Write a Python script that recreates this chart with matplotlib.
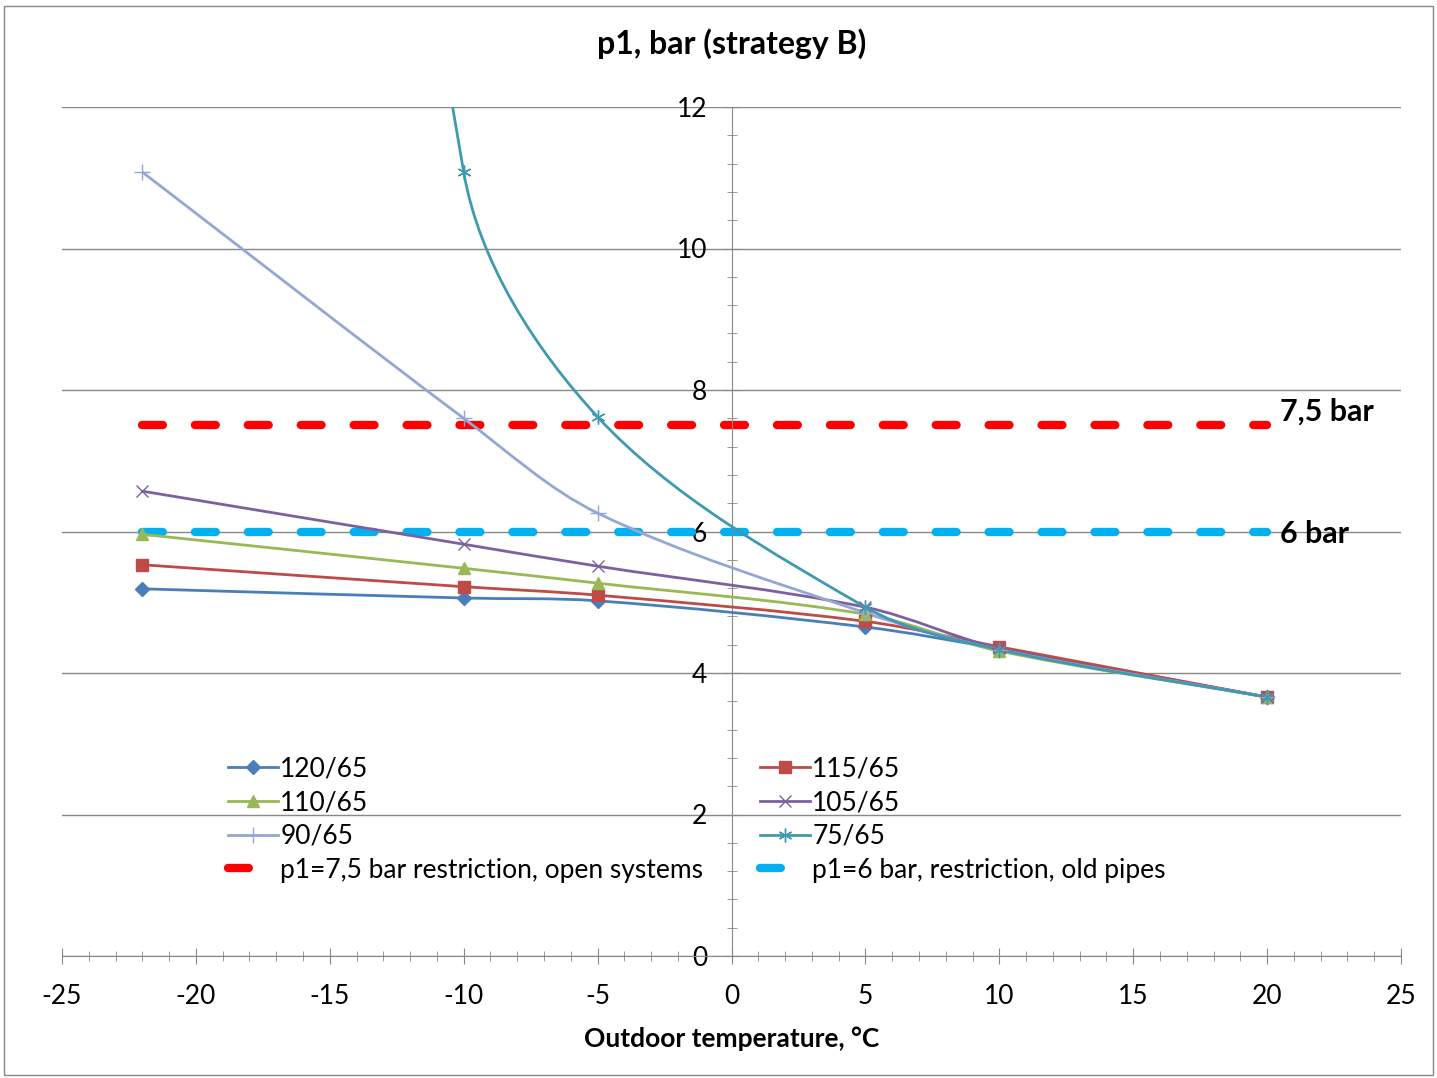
import math
import matplotlib
matplotlib.use("Agg")
import matplotlib.pyplot as plt
from matplotlib.path import Path
from matplotlib.patches import PathPatch, Rectangle
from matplotlib.lines import Line2D
from matplotlib.ticker import MultipleLocator

plt.rcParams['font.family'] = ['Lato', 'DejaVu Sans']
plt.rcParams['axes.unicode_minus'] = False

# ---------------- data ----------------
temps = [-22, -10, -5, 5, 10, 20]
s_120_65 = [5.19, 5.06, 5.02, 4.65, 4.34, 3.66]
s_115_65 = [5.53, 5.22, 5.10, 4.73, 4.37, 3.66]
s_110_65 = [5.96, 5.48, 5.27, 4.83, 4.31, 3.66]
s_105_65 = [6.57, 5.82, 5.51, 4.93, 4.35, 3.66]
s_90_65 = [11.08, 7.60, 6.26, 4.85, 4.33, 3.66]
s_75_65 = [45.0, 11.08, 7.62, 4.93, 4.33, 3.66]
limit_x = [-22, 20]
limit_open = [7.5, 7.5]
limit_old = [6.0, 6.0]
series_labels = ["120/65", "115/65", "110/65", "105/65", "90/65", "75/65"]
limit_labels = ["p1=7,5 bar restriction, open systems", "p1=6 bar, restriction, old pipes"]
limit_notes = ["7,5 bar", "6 bar"]
title = "p1, bar (strategy B)"
xlabel = "Outdoor temperature, \u00b0C"

colors = ["#4A7EBB", "#BE4B48", "#98B954", "#7D60A0", "#94A7D4", "#3E9AB0"]
markers = ["D", "s", "^", "x", "+", (6, 2, 0)]
msizes = [7, 9, 9, 9, 11, 10]

W, H = 1437, 1078
fig = plt.figure(figsize=(W / 100, H / 100), dpi=100)
ax_l, ax_r, ax_t, ax_b = 62, 1401, 107, 956
ax = fig.add_axes([ax_l / W, 1 - ax_b / H, (ax_r - ax_l) / W, (ax_b - ax_t) / H])
XMIN, XMAX, YMIN, YMAX = -25, 25, 0, 12
sx = (ax_r - ax_l) / (XMAX - XMIN)
sy = (ax_b - ax_t) / (YMAX - YMIN)


def smooth_path(xs, ys):
    # Excel-like smoothed line: cubic Bezier segments, tangent lengths weighted by
    # neighbouring segment lengths (measured on screen)
    pts = list(zip(xs, ys))
    n = len(pts)

    def dist(a, b):
        return math.hypot((b[0] - a[0]) * sx, (b[1] - a[1]) * sy)

    verts = [pts[0]]
    codes = [Path.MOVETO]
    for i in range(n - 1):
        p0 = pts[i - 1] if i > 0 else pts[i]
        p1 = pts[i]
        p2 = pts[i + 1]
        p3 = pts[i + 2] if i + 2 < n else pts[i + 1]
        d01, d12, d23 = dist(p0, p1), dist(p1, p2), dist(p2, p3)
        f1 = d12 / (d01 + d12) / 3 if d01 + d12 > 0 else 0
        f2 = d12 / (d12 + d23) / 3 if d12 + d23 > 0 else 0
        c1 = (p1[0] + (p2[0] - p0[0]) * f1, p1[1] + (p2[1] - p0[1]) * f1)
        c2 = (p2[0] - (p3[0] - p1[0]) * f2, p2[1] - (p3[1] - p1[1]) * f2)
        verts += [c1, c2, p2]
        codes += [Path.CURVE4] * 3
    return Path(verts, codes)


all_series = [s_120_65, s_115_65, s_110_65, s_105_65, s_90_65, s_75_65]
handles = []
for ys, lab, c, m, ms in zip(all_series, series_labels, colors, markers, msizes):
    patch = PathPatch(smooth_path(temps, ys), facecolor="none", edgecolor=c, lw=2.0,
                      transform=ax.transData, zorder=3)
    ax.add_patch(patch)
    ax.plot(temps, ys, linestyle="none", marker=m, color=c, markersize=ms,
            markeredgewidth=1.0, zorder=4)
    handles.append(Line2D([], [], color=c, lw=2.0, marker=m, markersize=ms, label=lab))

h_red, = ax.plot(limit_x, limit_open, color="#FF0000", lw=6.0, dashes=(2.5, 3.85),
                 dash_capstyle="round", zorder=2, label=limit_labels[0])
h_cyan, = ax.plot(limit_x, limit_old, color="#00B0F0", lw=6.0, dashes=(2.5, 3.85),
                  dash_capstyle="round", zorder=2, label=limit_labels[1])

ax.text(20.5, limit_open[0] + 0.19, limit_notes[0], fontsize=22, fontweight="bold",
        va="center", ha="left")
ax.text(20.5, limit_old[0] - 0.04, limit_notes[1], fontsize=22, fontweight="bold",
        va="center", ha="left")

ax.set_xlim(XMIN, XMAX)
ax.set_ylim(YMIN, YMAX)
ax.xaxis.set_major_locator(MultipleLocator(5))
ax.xaxis.set_minor_locator(MultipleLocator(1))
ax.yaxis.set_major_locator(MultipleLocator(2))
ax.yaxis.set_minor_locator(MultipleLocator(0.4))
ax.grid(axis="y", color="#888888", lw=1.0)
ax.set_axisbelow(True)
for s in ("top", "right"):
    ax.spines[s].set_visible(False)
ax.spines["left"].set_position(("data", 0))
ax.spines["left"].set_color("#888888")
ax.spines["bottom"].set_color("#888888")
ax.tick_params(axis="both", which="major", direction="inout", length=11, color="#888888",
               labelsize=19)
ax.tick_params(axis="both", which="minor", direction="inout", length=7, color="#888888")
ax.tick_params(axis="x", pad=15)
ax.tick_params(axis="y", pad=12)

ax.set_title(title, fontsize=23, fontweight="bold", pad=38)
ax.set_xlabel(xlabel, fontsize=19, fontweight="bold", labelpad=12)

# legend: column-major order for two columns
order = [handles[0], handles[2], handles[4], h_red, handles[1], handles[3], handles[5], h_cyan]
leg = ax.legend(handles=order, ncol=2, loc="upper left", bbox_to_anchor=(0.124, 0.235),
                frameon=False, fontsize=19, handlelength=1.9, handletextpad=0.08,
                columnspacing=2.15, labelspacing=0.33, borderpad=0, borderaxespad=0)

fig.patches.append(Rectangle((0.003, 0.003), 0.994, 0.991, transform=fig.transFigure,
                             fill=False, edgecolor="#888888", lw=1.0))

fig.savefig("out.png", dpi=100)
